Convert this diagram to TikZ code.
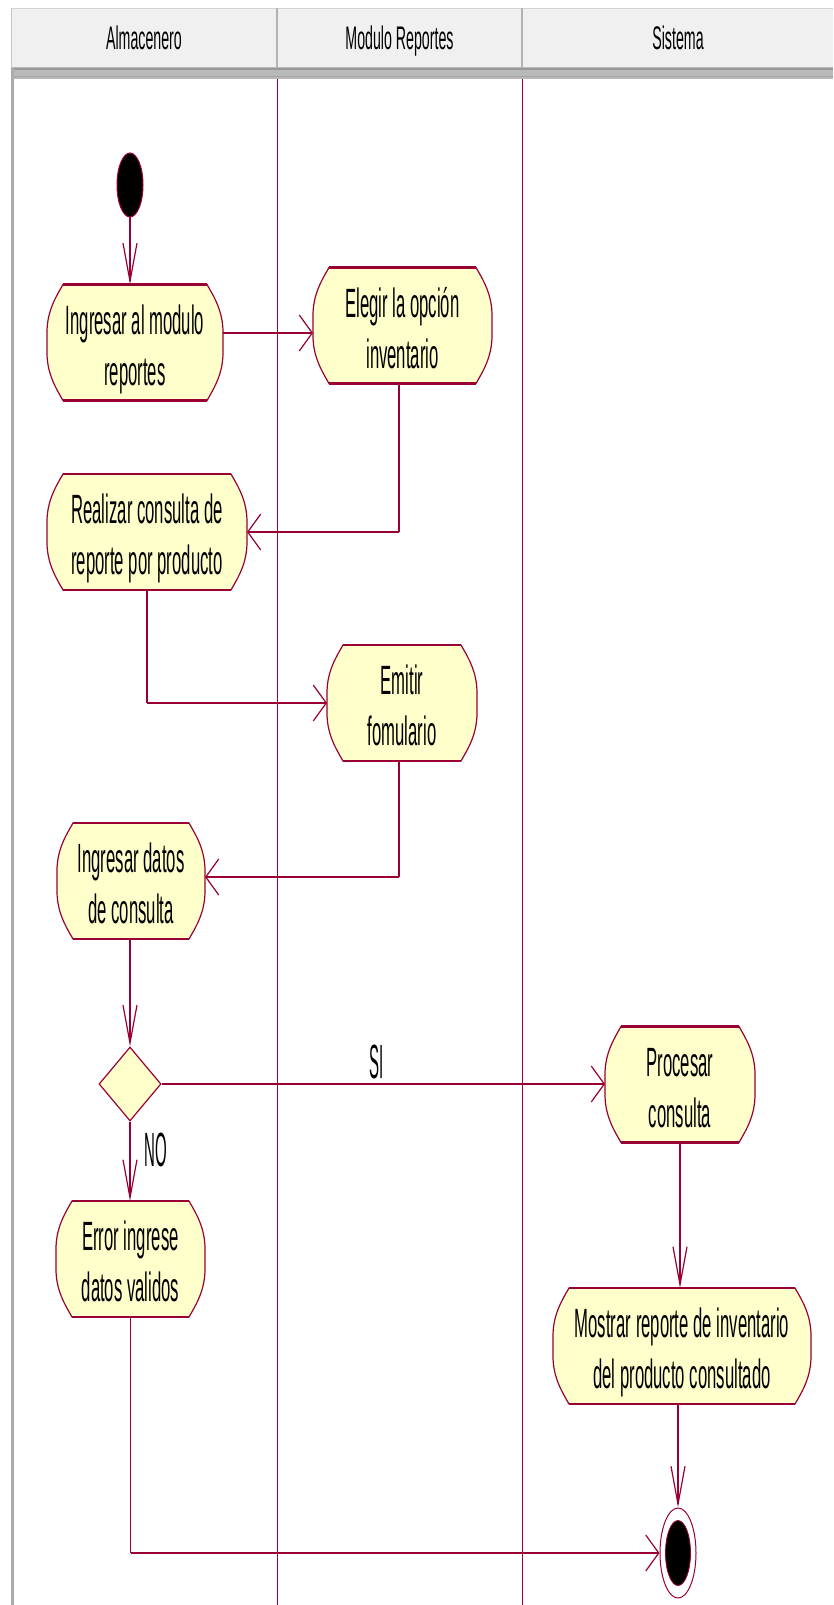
\documentclass[tikz,border=0pt]{standalone}
\usepackage{fontspec}
\setmainfont{Liberation Sans}
\usepackage{graphicx}
\usetikzlibrary{arrows.meta,calc,shapes.geometric,backgrounds}
\definecolor{crim}{RGB}{153,0,51}
\definecolor{actfill}{RGB}{255,255,204}
\definecolor{hdrfill}{RGB}{240,240,240}
\newcommand\acttext[1]{{\fontsize{16.7}{20.8}\selectfont\scalebox{1}[2.45]{\begin{tabular}{@{}c@{}}\rule{0pt}{20.3pt}#1\end{tabular}}}}
\newcommand\hdrtext[1]{{\fontsize{14.2}{17}\selectfont\scalebox{1}[2.3]{#1}}}
\newcommand\lbltext[1]{{\fontsize{15}{18}\selectfont\scalebox{1}[3.2]{#1}}}
\newcommand\drawact[1]{%
  \filldraw[actshp] ($(#1.north west)+(16,0)$) -- ($(#1.north east)+(-16,0)$)
   .. controls ($(#1.north east)+(-8.5,13)$) and ($(#1.north east)+(0,27)$) .. ($(#1.north east)+(0,48)$)
   -- ($(#1.south east)+(0,-48)$)
   .. controls ($(#1.south east)+(0,-27)$) and ($(#1.south east)+(-8.5,-13)$) .. ($(#1.south east)+(-16,0)$)
   -- ($(#1.south west)+(16,0)$)
   .. controls ($(#1.south west)+(8.5,-13)$) and ($(#1.south west)+(0,-27)$) .. ($(#1.south west)+(0,-48)$)
   -- ($(#1.north west)+(0,48)$)
   .. controls ($(#1.north west)+(0,27)$) and ($(#1.north west)+(8.5,13)$) .. cycle;
  \draw[actedge] ($(#1.north west)+(16,0)$) -- ($(#1.north east)+(-16,0)$);
  \draw[actedge] ($(#1.south west)+(16,0)$) -- ($(#1.south east)+(-16,0)$);
}
\begin{document}
\begin{tikzpicture}[x=1pt,y=-1pt,
  lane/.style={crim, line width=0.9pt},
  conn/.style={crim, line width=1.3pt},
  hseg/.style={crim, line width=2.6pt},
  harrow/.style={-{Straight Barb[length=13pt,width=36pt,line width=1.2pt]}},
  varrow/.style={-{Straight Barb[length=38pt,width=14pt,line width=1.2pt]}},
  actnode/.style={rectangle, inner sep=0pt, outer sep=0pt, draw=none},
  actshp/.style={draw=crim, fill=actfill, line width=1.2pt},
  actedge/.style={crim, line width=2.8pt},
  hdr/.style={anchor=base, inner sep=0pt, text=black},
  lbl/.style={anchor=base, inner sep=0pt, text=black},
  startst/.style={ellipse, minimum width=26pt, minimum height=64pt, inner sep=0pt, fill=black, draw=crim, line width=1pt},
  finout/.style={ellipse, minimum width=36pt, minimum height=90pt, inner sep=0pt, fill=white, draw=crim, line width=1pt},
  finin/.style={ellipse, minimum width=25pt, minimum height=65pt, inner sep=0pt, fill=black, draw=crim, line width=0.8pt},
  decis/.style={diamond, minimum width=62pt, minimum height=74pt, inner sep=0pt, draw=crim, fill=actfill, line width=1.2pt}
]
\useasboundingbox (0,0) rectangle (833,1605);

% activity nodes (text only, outlines drawn on background layer)
\node[actnode, minimum width=176pt, minimum height=109pt] (n1) at (135,342.5) {\acttext{Ingresar al modulo\\reportes}};
\node[actnode, minimum width=179pt, minimum height=109pt] (n2) at (402.5,325.5) {\acttext{Elegir la opción\\inventario}};
\node[actnode, minimum width=200pt, minimum height=110pt] (n3) at (147,532) {\acttext{Realizar consulta de\\reporte por producto}};
\node[actnode, minimum width=150pt, minimum height=108pt] (n4) at (402,703) {\acttext{Emitir\\fomulario}};
\node[actnode, minimum width=148pt, minimum height=102pt] (n5) at (131,881) {\acttext{Ingresar datos\\de consulta}};
\node[actnode, minimum width=150pt, minimum height=109pt] (n6) at (680,1084.5) {\acttext{Procesar\\consulta}};
\node[actnode, minimum width=149pt, minimum height=108pt] (n7) at (130.5,1259) {\acttext{Error ingrese\\datos validos}};
\node[actnode, minimum width=258pt, minimum height=108pt] (n8) at (682,1346) {\acttext{Mostrar reporte de inventario\\del producto consultado}};

\begin{scope}[on background layer]
  \fill[white] (0,0) rectangle (833,1605);
  % header
  \fill[hdrfill] (11,8) rectangle (833,68);
  \draw[gray!35, line width=1.5pt] (11,8.5) -- (833,8.5);
  \fill[gray!55] (11,67) rectangle (833,79);
  \draw[gray!80, line width=2pt] (11,69) -- (833,69);
  \draw[gray!70, line width=1.5pt] (11,76.5) -- (833,76.5);
  \draw[gray!60, line width=1.5pt] (277,8) -- (277,68);
  \draw[gray!60, line width=1.5pt] (522,8) -- (522,68);
  \draw[gray!45, line width=1.5pt] (11.5,8) -- (11.5,68);
  \draw[gray!65, line width=2.5pt] (12.5,68) -- (12.5,1605);
  % lanes
  \draw[lane] (277,79) -- (277,1605);
  \draw[lane] (522,79) -- (522,1605);
  % activity shapes
  \drawact{n1}\drawact{n2}\drawact{n3}\drawact{n4}
  \drawact{n5}\drawact{n6}\drawact{n7}\drawact{n8}
\end{scope}

% header texts
\node[hdr] (h1) at (144,50) {\hdrtext{Almacenero}};
\node[hdr] (h2) at (399.5,50) {\hdrtext{Modulo Reportes}};
\node[hdr] (h3) at (678,50) {\hdrtext{Sistema}};

% start, decision, final
\node[startst] (st) at (130,185) {};
\node[decis] (dec) at (130,1084) {};
\node[finout] (fo) at (678,1553) {};
\node[finin] (fi) at (678,1553) {};

% labels
\node[lbl] (si) at (377,1078) {\lbltext{SI}};
\node[lbl] (no) at (156,1166) {\lbltext{NO}};

% connectors
\draw[conn,varrow] (st.south) -- (st.south |- n1.north);
\coordinate (m12) at (0,333);
\draw[hseg,harrow] (n1.east |- m12) -- (n2.west |- m12);

\coordinate (c23) at ([xshift=-3.5pt]n2.south);
\draw[conn] (c23) -- (c23 |- n3.east);
\draw[hseg,harrow] (c23 |- n3.east) -- (n3.east);

\draw[conn] (n3.south) -- (n3.south |- n4.west);
\draw[hseg,harrow] (n3.south |- n4.west) -- (n4.west);

\coordinate (c45) at ([xshift=-3pt]n4.south);
\coordinate (m45) at (0,877);
\draw[conn] (c45) -- (c45 |- m45);
\draw[hseg,harrow] (c45 |- m45) -- (n5.east |- m45);

\draw[conn,varrow] (dec.north |- n5.south) -- (dec.north);
\draw[hseg,harrow] (dec.east) -- (dec.east -| n6.west);
\draw[conn,varrow] (dec.south) -- (dec.south |- n7.north);
\draw[conn,varrow] (n6.south) -- (n6.south |- n8.north);
\draw[conn,varrow] (fo.north |- n8.south) -- (fo.north);
\draw[conn] (n7.south) -- (n7.south |- fo.west);
\draw[hseg,harrow] (n7.south |- fo.west) -- (fo.west);
\end{tikzpicture}
\end{document}
